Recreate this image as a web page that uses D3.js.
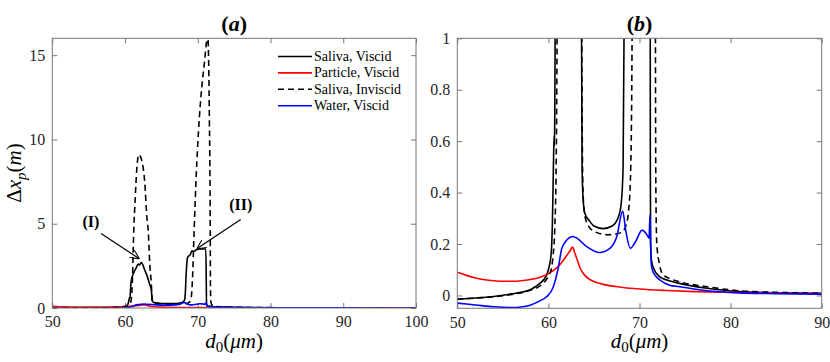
<!DOCTYPE html>
<meta charset="utf-8">
<style>
body { margin: 0; background: #fff; }
</style>
<svg width="830" height="362" font-family="Liberation Serif, 'DejaVu Serif', serif"></svg>
<script src="https://d3js.org/d3.v7.min.js"></script>
<script>

// Saliva, Viscid
var salivaViscidX = [50, 52, 54, 56, 57, 58, 59, 59.5, 60, 60.3, 60.45, 60.55, 60.62, 60.66, 60.7, 60.75, 60.85, 61.1, 61.3, 61.5, 61.8, 62.0, 62.2, 62.35, 62.5, 62.75, 63.0, 63.35, 63.55, 63.64, 63.7, 63.8, 64.0, 64.5, 65, 66, 67, 67.7, 68.0, 68.2, 68.3, 68.4, 68.6, 69.0, 69.2, 69.4, 69.8, 70.3, 70.8, 71.1, 71.16, 71.19, 71.22, 71.3, 71.5, 72.2, 73, 74.4, 77.4, 81, 85, 90, 95, 100];
var salivaViscidY = [-0.015, -0.01, -0.004, 0.006, 0.012, 0.022, 0.045, 0.062, 0.1, 0.16, 0.3, 0.5, 0.62, 0.58, 0.7, 1.1, 1.6, 2.0, 2.2, 2.35, 2.6, 2.55, 2.7, 2.65, 2.5, 2.2, 1.95, 1.45, 1.2, 1.0, 0.5, 0.38, 0.32, 0.29, 0.27, 0.26, 0.27, 0.307, 0.36, 0.5, 1.0, 2.0, 3.0, 3.2, 3.4, 3.35, 3.45, 3.5, 3.5, 3.5, 2.0, 0.5, 0.2, 0.14, 0.11, 0.073, 0.06, 0.047, 0.028, 0.015, 0.01, 0.007, 0.005, 0.004];

// Particle, Viscid
var particleViscidX = [50, 51, 52, 53, 54, 55, 56, 57, 58, 59, 60, 61, 61.5, 62, 62.4, 62.65, 62.9, 63.2, 63.5, 64, 64.5, 65, 65.6, 66, 68, 70, 73, 76, 80, 85, 90, 95, 100];
var particleViscidY = [0.09, 0.078, 0.068, 0.061, 0.057, 0.055, 0.055, 0.057, 0.062, 0.07, 0.085, 0.11, 0.13, 0.155, 0.175, 0.188, 0.165, 0.135, 0.105, 0.078, 0.063, 0.054, 0.047, 0.043, 0.032, 0.025, 0.019, 0.015, 0.012, 0.01, 0.008, 0.007, 0.006];

// Saliva, Inviscid
var salivaInviscidX = [50, 52, 54, 56, 58, 59, 59.5, 60, 60.3, 60.5, 60.7, 60.85, 60.95, 61.0, 61.2, 61.4, 61.6, 61.9, 62.1, 62.4, 62.7, 63.0, 63.2, 63.4, 63.6, 63.7, 63.8, 64.0, 64.5, 65, 66, 66.5, 67, 67.5, 68, 68.5, 68.8, 69.0, 69.15, 69.25, 69.5, 69.8, 70.1, 70.55, 70.9, 71.25, 71.4, 71.5, 71.6, 71.7, 71.75, 71.8, 71.9, 72.2, 72.6, 73.3, 74.4, 77.4, 81, 85, 90, 95, 100];
var salivaInviscidY = [-0.015, -0.01, -0.005, 0.004, 0.02, 0.035, 0.05, 0.075, 0.1, 0.15, 0.26, 0.5, 1.0, 1.5, 4.6, 6.5, 8.15, 9.1, 9.0, 8.55, 7.5, 5.4, 4.5, 2.6, 1.5, 0.7, 0.4, 0.31, 0.265, 0.25, 0.238, 0.236, 0.237, 0.24, 0.245, 0.27, 0.33, 0.45, 0.8, 1.5, 4.6, 8, 10.5, 13.1, 14.5, 15.85, 15.95, 14.5, 11, 6, 1.0, 0.4, 0.2, 0.12, 0.08, 0.066, 0.053, 0.034, 0.018, 0.012, 0.009, 0.007, 0.006];

// Water, Viscid
var waterViscidX = [50, 52, 54, 56, 57, 58, 59, 59.8, 60.5, 61.1, 61.45, 61.8, 62.2, 62.65, 63, 64.2, 65.6, 66.75, 67.5, 68.15, 68.5, 69.0, 69.5, 70.3, 70.95, 71.05, 71.15, 71.22, 71.3, 71.5, 72.25, 73.3, 74.4, 77.4, 81, 85, 90, 95, 100];
var waterViscidY = [-0.03, -0.037, -0.044, -0.047, -0.045, -0.038, -0.022, -0.005, 0.03, 0.11, 0.18, 0.205, 0.222, 0.229, 0.225, 0.19, 0.167, 0.183, 0.228, 0.328, 0.25, 0.183, 0.205, 0.254, 0.228, 0.222, 0.313, 0.2, 0.12, 0.09, 0.06, 0.04, 0.034, 0.018, 0.01, 0.007, 0.005, 0.004, 0.003];

var seriesNames = ["Saliva, Viscid", "Particle, Viscid", "Saliva, Inviscid", "Water, Viscid"];
var seriesColors = ["#000000", "#ff0000", "#000000", "#0000ff"];
var seriesDash = [null, null, "6,4", null];
var seriesX = [salivaViscidX, particleViscidX, salivaInviscidX, waterViscidX];
var seriesY = [salivaViscidY, particleViscidY, salivaInviscidY, waterViscidY];

var ticksA_x = [50, 60, 70, 80, 90, 100];
var ticksA_y = [0, 5, 10, 15];
var ticksB_x = [50, 60, 70, 80, 90];
var ticksB_y = [0, 0.2, 0.4, 0.6, 0.8, 1];

// annotation labels: text, label x/y, arrow tail x/y, arrow head x/y (data units, panel a)
var notes = [
  ["(I)", 55.3, 4.8, 56.7, 4.42, 61.97, 2.92],
  ["(II)", 75.9, 5.8, 75.9, 5.25, 69.86, 3.51]
];

var FONT = "Liberation Serif";
var svg = d3.select("svg");

svg.append("defs").append("marker")
    .attr("id", "head")
    .attr("viewBox", "0 0 10 10")
    .attr("refX", 10).attr("refY", 5)
    .attr("markerWidth", 9).attr("markerHeight", 9)
    .attr("markerUnits", "userSpaceOnUse")
    .attr("orient", "auto")
  .append("path")
    .attr("d", "M0,0 L10,5 L0,10")
    .attr("fill", "none")
    .attr("stroke", "#000")
    .attr("stroke-width", 1.2);

function panel(id, left, right, top, bottom, xdom, ydom, xt, yt, fmt, title) {
  var x = d3.scaleLinear().domain(xdom).range([left, right]);
  var y = d3.scaleLinear().domain(ydom).range([bottom, top]);
  var g = svg.append("g");

  g.append("clipPath").attr("id", "clip" + id)
    .append("rect")
      .attr("x", left).attr("y", top)
      .attr("width", right - left).attr("height", bottom - top);

  var axes = [
    g.append("g").attr("transform", "translate(0," + bottom + ")")
      .call(d3.axisBottom(x).tickValues(xt).tickSize(-5).tickPadding(8).tickFormat(d3.format("d"))),
    g.append("g").attr("transform", "translate(0," + top + ")")
      .call(d3.axisTop(x).tickValues(xt).tickSize(-5).tickFormat("")),
    g.append("g").attr("transform", "translate(" + left + ",0)")
      .call(d3.axisLeft(y).tickValues(yt).tickSize(-5).tickPadding(7).tickFormat(fmt)),
    g.append("g").attr("transform", "translate(" + right + ",0)")
      .call(d3.axisRight(y).tickValues(yt).tickSize(-5).tickFormat(""))
  ];
  axes.forEach(function(a) {
    a.attr("font-family", FONT).attr("font-size", 16);
    a.select(".domain").remove();
    a.selectAll(".tick line").attr("stroke", "#777");
    a.selectAll(".tick text").attr("fill", "#262626");
  });

  var line = d3.line()
    .curve(d3.curveMonotoneX)
    .x(function(d) { return x(d[0]); })
    .y(function(d) { return y(d[1]); });
  var lines = g.append("g").attr("clip-path", "url(#clip" + id + ")");
  seriesNames.forEach(function(name, i) {
    lines.append("path")
      .datum(d3.zip(seriesX[i], seriesY[i]))
      .attr("d", line)
      .attr("fill", "none")
      .attr("stroke", seriesColors[i])
      .attr("stroke-width", 1.6)
      .attr("stroke-linejoin", "round")
      .attr("stroke-dasharray", seriesDash[i]);
  });

  g.append("rect")
    .attr("x", left).attr("y", top)
    .attr("width", right - left).attr("height", bottom - top)
    .attr("fill", "none").attr("stroke", "#777").attr("stroke-width", 1);

  // title (bold, italic letter)
  var t = g.append("text")
    .attr("x", (left + right) / 2).attr("y", 31)
    .attr("text-anchor", "middle")
    .attr("font-family", FONT)
    .attr("font-size", 22).attr("font-weight", "bold");
  t.append("tspan").text("(");
  t.append("tspan").attr("font-style", "italic").text(title);
  t.append("tspan").text(")");

  // x label d0(μm)
  var xl = g.append("text")
    .attr("x", (left + right) / 2).attr("y", 348)
    .attr("text-anchor", "middle")
    .attr("font-family", FONT)
    .attr("font-size", 21);
  xl.append("tspan").attr("font-style", "italic").text("d");
  xl.append("tspan").attr("font-size", 15).attr("dy", 4).text("0");
  xl.append("tspan").attr("dy", -4).text("(");
  xl.append("tspan").attr("font-style", "italic").text("μm");
  xl.append("tspan").text(")");

  return { x: x, y: y, g: g };
}

var pa = panel("a", 52.3, 416, 38.3, 308, [50, 100], [0, 16], ticksA_x, ticksA_y, d3.format("d"), "a");
var pb = panel("b", 457.3, 821.7, 38.3, 308.3, [50, 90], [-0.05, 1], ticksB_x, ticksB_y,
  function(d) { return d === 0 || d === 1 ? String(d) : d3.format(".1f")(d); }, "b");

// y label
var yl = svg.append("text")
  .attr("transform", "translate(21,173) rotate(-90)")
  .attr("text-anchor", "middle")
  .attr("font-family", FONT)
  .attr("font-size", 21);
yl.append("tspan").text("Δ");
yl.append("tspan").attr("font-style", "italic").text("x");
yl.append("tspan").attr("font-style", "italic").attr("font-size", 15).attr("dy", 5).text("p");
yl.append("tspan").attr("dy", -5).text("(");
yl.append("tspan").attr("font-style", "italic").text("m");
yl.append("tspan").text(")");

// legend in panel a
var legend = svg.append("g").attr("font-family", FONT);
seriesNames.forEach(function(name, i) {
  var ly = 56.5 + i * 16.4;
  legend.append("line")
    .attr("x1", 278).attr("x2", 312).attr("y1", ly).attr("y2", ly)
    .attr("stroke", seriesColors[i]).attr("stroke-width", 1.6)
    .attr("stroke-dasharray", seriesDash[i]);
  legend.append("text")
    .attr("x", 314).attr("y", ly + 4.5)
    .attr("font-size", 14).attr("fill", "#000")
    .text(name);
});

// annotations in panel a
notes.forEach(function(n) {
  svg.append("text")
    .attr("x", pa.x(n[1])).attr("y", pa.y(n[2]))
    .attr("text-anchor", "middle")
    .attr("font-family", FONT)
    .attr("font-size", 16).attr("font-weight", "bold")
    .text(n[0]);
  svg.append("line")
    .attr("x1", pa.x(n[3])).attr("y1", pa.y(n[4]))
    .attr("x2", pa.x(n[5])).attr("y2", pa.y(n[6]))
    .attr("stroke", "#000").attr("stroke-width", 1.2)
    .attr("marker-end", "url(#head)");
});

</script>
